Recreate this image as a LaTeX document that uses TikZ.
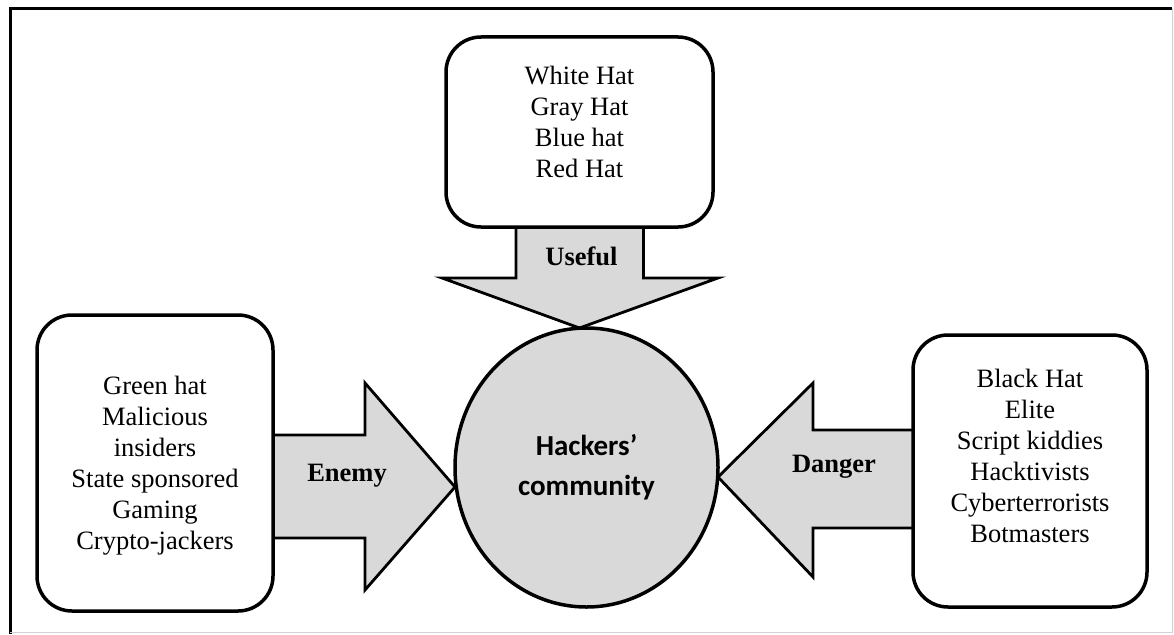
\documentclass[tikz,border=0pt]{standalone}
\usepackage{fontspec}
\setmainfont{Liberation Serif}
\newfontfamily\hubfont{Carlito}
\usetikzlibrary{shapes.geometric, positioning, calc, backgrounds}

\begin{document}
\begin{tikzpicture}[
    x=1pt, y=-1pt,
    hatbox/.style={rectangle, rounded corners=35pt, draw=black, line width=3.5pt, fill=white, outer sep=0pt},
    hatlist/.style={align=center, inner sep=0pt, font=\fontsize{26.5}{31}\selectfont},
    hubnode/.style={ellipse, draw=black, line width=3.5pt, fill=gray!30, outer sep=0pt, inner sep=0pt, minimum width=263pt, minimum height=279pt, align=center, font=\hubfont\bfseries\fontsize{29}{40}\selectfont},
    bigarrow/.style={draw=black, line width=2.8pt, fill=gray!30, line join=miter},
    lbl/.style={inner sep=0pt, font=\bfseries\fontsize{26.5}{31}\selectfont}
]
\useasboundingbox (0,0) rectangle (1174,634);

% Page frame
\draw[line width=3pt] (10,634) -- (10,8.5) -- (1172,8.5);
\draw[gray!35, line width=1pt] (10,632) -- (1172,632) -- (1172,8.5);

% Centre and the three groups around it
\node[hubnode] (hub) at (586.5,467.5) {Hackers’\\community};
\node[hatbox, minimum width=267pt, minimum height=190pt, above=101pt of hub, xshift=-7pt] (hats) {};
\node[hatbox, minimum width=236pt, minimum height=296pt, left=182pt of hub, yshift=4.5pt] (enemies) {};
\node[hatbox, minimum width=234pt, minimum height=272pt, right=195pt of hub, yshift=-3.5pt] (dangers) {};

% Group lists
\node[hatlist] (hatsText) at ([yshift=10.5pt]hats.center) {White Hat\\Gray Hat\\Blue hat\\Red Hat};
\node[hatlist] (enemiesText) at ([yshift=-2.5pt]enemies.center) {Green hat\\Malicious\\insiders\\State sponsored\\Gaming\\Crypto-jackers};
\node[hatlist] (dangersText) at ([yshift=15pt]dangers.center) {Black Hat\\Elite\\Script kiddies\\Hacktivists\\Cyberterrorists\\Botmasters};

% Block arrows into the centre
\begin{pgfonlayer}{background}
\draw[bigarrow] ($(hats.south)+(-63.5,0)$) -- ++(0,51) -- ++(-74,0) -- ($(hats.south)+(0,101)$) -- ($(hats.south)+(138.5,51)$) -- ++(-74.5,0) -- ++(0,-51);
\draw[bigarrow] ($(enemies.east)+(0,-28)$) -- ++(92,0) -- ++(0,-52) -- ($(enemies.east)+(182,24)$) -- ($(enemies.east)+(92,127)$) -- ++(0,-52) -- ++(-92,0);
\draw[bigarrow] ($(dangers.west)+(0,-41)$) -- ++(-100,0) -- ++(0,-47) -- ($(dangers.west)+(-195,6)$) -- ($(dangers.west)+(-100,106)$) -- ++(0,-49) -- ++(100,0);
\end{pgfonlayer}

% Arrow labels
\node[lbl] (useful) at ($(hats.south)+(2,29)$) {Useful};
\node[lbl] (enemy) at ($(enemies.east)+(74,13)$) {Enemy};
\node[lbl] (danger) at ($(dangers.west)+(-79,-4)$) {Danger};

\end{tikzpicture}
\end{document}
